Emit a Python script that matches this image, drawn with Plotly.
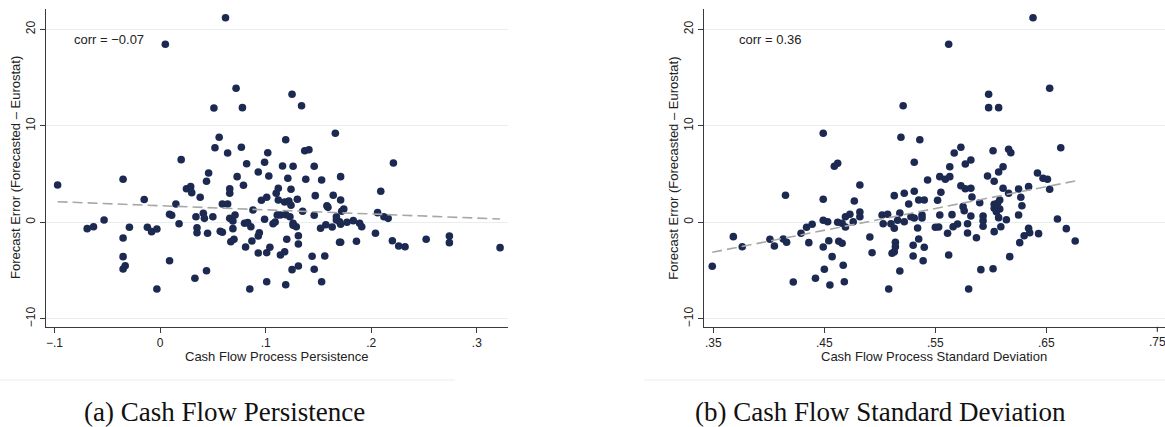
import plotly.graph_objects as go

# ---------------- Data ----------------
pers_x = [0.062, 0.005, -0.097, -0.035, -0.015, -0.069, -0.063, -0.053, -0.035, -0.035,
          -0.033, -0.035, -0.029, -0.012, 0.232, 0.252, 0.274, 0.274, 0.322, 0.072,
          0.125, 0.051, 0.078, 0.134,
          0.166, 0.056, 0.119, 0.052, 0.077, 0.064, 0.102, 0.137, 0.141, 0.020,
          0.221, 0.082, 0.099, 0.116, 0.126, 0.146, 0.093, 0.046, 0.073, 0.103,
          0.121, 0.138, 0.153, 0.171, 0.044, 0.079, 0.025, 0.029, 0.030, 0.066,
          0.066, 0.112, 0.124, 0.209, 0.038, 0.147, 0.164, 0.110, 0.096, 0.101,
          0.112, 0.118, 0.122, 0.124, 0.130, 0.171, 0.015, 0.059, 0.064, 0.088,
          0.135, 0.158, 0.159, 0.174, 0.172, 0.206, 0.212, 0.216, 0.009, 0.011,
          0.034, 0.041, 0.042, 0.050, 0.066, 0.069, 0.071, 0.099, 0.111, 0.114,
          0.119, 0.123, 0.146, 0.167, 0.167, 0.170, 0.177, 0.183, 0.189, 0.018,
          0.080, 0.083, 0.107, 0.109, 0.126, 0.157, 0.171, -0.008, -0.003, 0.035,
          0.035, 0.045, 0.057, 0.059, 0.069, 0.086, 0.094, 0.093, 0.126, 0.129,
          0.152, 0.163, 0.191, 0.204, 0.220, 0.226, 0.131, 0.120, 0.067, 0.070,
          0.087, 0.131, 0.170, 0.171, 0.186, 0.081, 0.104, 0.093, 0.101, 0.114,
          0.118, 0.144, 0.156, 0.009, 0.044, 0.033, 0.125, 0.131, 0.146, -0.003,
          0.085, 0.101, 0.119, 0.153]
pers_y = [21.2, 18.45, 3.87, 4.46, 2.36, -0.66, -0.46, 0.24, -1.63, -4.84,
          -4.5, -3.56, -0.52, -0.52, -2.53, -1.76, -1.42, -2.11, -2.63, 13.89,
          13.26, 11.84, 11.88, 12.08,
          9.22, 8.81, 8.56, 7.73, 7.77, 7.18, 7.21, 7.42, 7.52, 6.49,
          6.15, 6.07, 6.22, 5.83, 5.80, 5.80, 5.21, 5.11, 4.73, 4.80,
          4.56, 4.46, 4.38, 4.73, 4.25, 3.83, 3.48, 3.69, 3.07, 3.48,
          3.01, 3.52, 3.42, 3.21, 2.59, 2.76, 2.80, 3.01, 2.28, 2.59,
          2.31, 2.10, 2.21, 1.76, 2.38, 2.31, 1.90, 1.90, 1.90, 1.27,
          1.14, 1.72, 1.55, 1.38, 1.14, 1.00, 0.58, 0.41, 0.83, 0.73,
          0.58, 0.93, 0.41, 0.58, 0.41, 0.13, 0.76, 0.31, 0.76, 0.76,
          0.79, 0.58, 0.73, 0.58, 0.24, 0.06, 0.00, 0.17, -0.10, -0.15,
          -0.10, -0.04, -0.15, 0.03, -0.10, -0.25, -0.21, -0.97, -0.69, -0.56,
          -1.08, -1.14, -0.93, -1.04, -0.66, -0.46, -1.08, -1.42, -0.31, -0.46,
          -0.62, -0.49, -0.46, -1.14, -1.91, -2.46, -1.39, -1.76, -2.01, -1.76,
          -1.94, -2.25, -2.07, -2.07, -1.97, -2.56, -2.59, -3.18, -3.15, -3.39,
          -3.05, -3.52, -3.49, -3.98, -5.02, -5.80, -4.91, -4.53, -4.87, -6.91,
          -6.91, -6.16, -6.47, -6.16]

sd_x = [0.638, 0.562, 0.653, 0.415, 0.349, 0.368, 0.376, 0.401, 0.405, 0.413,
        0.416, 0.422,
        0.598, 0.598, 0.607, 0.521, 0.449, 0.519, 0.536, 0.573, 0.567, 0.602,
        0.616, 0.618, 0.663, 0.459, 0.462, 0.531, 0.577, 0.582, 0.563, 0.611,
        0.607, 0.642, 0.597, 0.603, 0.647, 0.651, 0.543, 0.554, 0.559, 0.563,
        0.482, 0.573, 0.577, 0.582, 0.611, 0.625, 0.634, 0.653, 0.513, 0.522,
        0.531, 0.555, 0.616, 0.449, 0.477, 0.535, 0.540, 0.526, 0.552, 0.583,
        0.590, 0.627, 0.603, 0.606, 0.608, 0.575, 0.628, 0.603, 0.605, 0.608,
        0.473, 0.482, 0.482, 0.469, 0.502, 0.507, 0.518, 0.528, 0.531, 0.538,
        0.538, 0.554, 0.565, 0.576, 0.582, 0.593, 0.593, 0.605, 0.607, 0.625,
        0.614, 0.626, 0.449, 0.453, 0.462, 0.466, 0.469, 0.476, 0.439, 0.434,
        0.429, 0.436, 0.503, 0.510, 0.513, 0.516, 0.522, 0.534, 0.550, 0.553,
        0.561, 0.566, 0.570, 0.579, 0.579, 0.593, 0.587, 0.603, 0.609, 0.630,
        0.634, 0.635, 0.643, 0.660, 0.668, 0.676, 0.449, 0.454, 0.463, 0.466,
        0.491, 0.457, 0.493, 0.467, 0.450, 0.442, 0.455, 0.468, 0.514, 0.514,
        0.513, 0.511, 0.530, 0.535, 0.540, 0.530, 0.539, 0.518, 0.508, 0.562,
        0.580, 0.591, 0.602, 0.617]
sd_y = [21.2, 18.45, 13.89, 2.80, -4.56, -1.49, -2.53, -1.76, -2.46, -1.73,
        -2.07, -6.19,
        13.26, 11.88, 11.88, 12.08, 9.22, 8.81, 8.56, 7.77, 7.18, 7.42,
        7.56, 7.21, 7.73, 5.80, 6.11, 6.22, 6.04, 6.46, 5.76, 5.76,
        5.21, 5.11, 4.80, 4.25, 4.56, 4.46, 4.38, 4.73, 4.46, 4.73,
        3.87, 3.79, 3.48, 3.52, 3.52, 3.45, 3.69, 3.42, 2.76, 3.01,
        3.21, 3.11, 3.01, 2.38, 2.21, 2.31, 2.31, 1.90, 2.28, 2.62,
        2.03, 2.59, 1.87, 1.97, 2.31, 1.62, 1.72, 1.45, 1.35, 1.38,
        0.83, 1.07, 0.58, 0.58, 0.76, 0.83, 0.96, 0.58, 0.45, 0.76,
        0.45, 0.76, 0.79, 1.20, 0.65, 0.65, 0.17, 1.10, 0.48, 0.76,
        0.27, -2.11, 0.21, 0.06, 0.00, -0.10, -0.49, 0.06, -0.21, -0.52,
        -1.14, -2.11, -0.15, -0.15, -0.62, 0.21, 0.06, -0.59, -0.52, -0.49,
        -1.14, -0.46, -0.18, -0.15, -1.11, -0.41, -1.60, -0.97, -0.46, -1.39,
        -0.62, -1.08, -1.18, 0.34, -0.66, -1.94, -2.56, -1.91, -1.97, -2.18,
        -1.52, -3.56, -3.15, -4.46, -4.87, -5.80, -6.50, -6.16, -2.07, -2.53,
        -3.05, -3.21, -2.38, -1.73, -2.59, -3.49, -3.98, -5.05, -6.91, -3.39,
        -6.91, -4.91, -4.81, -3.56]

# linear fit end points
fit_pers_x = [-0.097, 0.322]
fit_pers_y = [2.13, 0.34]
fit_sd_x = [0.349, 0.676]
fit_sd_y = [-3.11, 4.28]

y_ticks = [-10, 0, 10, 20]
y_ticktext = ["\u221210", "0", "10", "20"]
pers_ticks = [-0.1, 0, 0.1, 0.2, 0.3]
pers_ticktext = ["\u2212.1", "0", ".1", ".2", ".3"]
sd_ticks = [0.35, 0.45, 0.55, 0.65, 0.75]
sd_ticktext = [".35", ".45", ".55", ".65", ".75"]

corr_texts = ["corr = \u22120.07", "corr = 0.36"]
y_title = "Forecast Error (Forecasted \u2013 Eurostat)"
x_titles = ["Cash Flow Process Persistence", "Cash Flow Process Standard Deviation"]
captions = ["(a) Cash Flow Persistence", "(b) Cash Flow Standard Deviation"]

# ---------------- Styling ----------------
W, H = 1165, 427
NAVY = "#1c2a52"
FIT = "#a8a8a8"
GRID = "#e6eef0"
AXIS = "#3a3a3a"
TXT = "#222"
SANS = "Liberation Sans, Arial, sans-serif"
SERIF = "Liberation Serif, Times New Roman, serif"
TICK_FS = 12

fig = go.Figure()

for i, (xs, ys, fx, fy) in enumerate([(pers_x, pers_y, fit_pers_x, fit_pers_y),
                                      (sd_x, sd_y, fit_sd_x, fit_sd_y)]):
    xa = "x" if i == 0 else "x2"
    ya = "y" if i == 0 else "y2"
    fig.add_trace(go.Scatter(x=xs, y=ys, mode="markers", xaxis=xa, yaxis=ya,
                             marker=dict(color=NAVY, size=7.6, line=dict(width=0)),
                             showlegend=False, hoverinfo="skip"))
    fig.add_trace(go.Scatter(x=fx, y=fy, mode="lines", xaxis=xa, yaxis=ya,
                             line=dict(color=FIT, width=1.6, dash="10px,5px"),
                             showlegend=False, hoverinfo="skip"))

# plot-area pixel geometry
left_px = (46, 508)
right_px = (703.7, 1165)
top_px, bot_px = 9.3, 326.7
ydom = [(H - bot_px) / H, (H - top_px) / H]

common_y = dict(range=[-10.82, 22.07], tickvals=y_ticks, ticktext=y_ticktext,
                tickangle=-90, showgrid=True, gridcolor=GRID, gridwidth=1.2,
                zeroline=False, showline=True, linecolor=AXIS, linewidth=1.3,
                ticks="outside", ticklen=5, tickcolor=AXIS, tickwidth=1.2,
                tickfont=dict(family=SANS, size=TICK_FS, color=TXT), domain=ydom)
common_x = dict(showgrid=False, zeroline=False, showline=True, linecolor=AXIS,
                linewidth=1.3, ticks="outside", ticklen=5, tickcolor=AXIS, tickwidth=1.2,
                tickfont=dict(family=SANS, size=TICK_FS, color=TXT))

fig.update_layout(
    width=W, height=H, margin=dict(l=0, r=0, t=0, b=0),
    paper_bgcolor="white", plot_bgcolor="white",
    xaxis=dict(domain=[left_px[0] / W, left_px[1] / W], range=[-0.108, 0.3295],
               tickvals=pers_ticks, ticktext=pers_ticktext, anchor="y", **common_x),
    yaxis=dict(anchor="x", **common_y),
    xaxis2=dict(domain=[right_px[0] / W, 1.0], range=[0.3413, 0.7569],
                tickvals=sd_ticks[:-1], ticktext=sd_ticktext[:-1], anchor="y2", **common_x),
    yaxis2=dict(anchor="x2", **common_y),
)

ann = []
# last tick label on the right panel sits on the page edge (partly cut in the reference)
ann.append(dict(x=sd_ticks[-1], y=(H - 342) / H, xref="x2", yref="paper", text=sd_ticktext[-1],
                showarrow=False, xanchor="center", yanchor="middle",
                font=dict(family=SANS, size=TICK_FS, color=TXT)))
fig.add_shape(type="line", xref="x2", yref="paper", x0=sd_ticks[-1], x1=sd_ticks[-1],
              y0=(H - bot_px) / H, y1=(H - bot_px - 5) / H, line=dict(color=AXIS, width=1.2))
# correlation labels (data coordinates)
ann.append(dict(x=-0.0836, y=18.9, xref="x", yref="y", text=corr_texts[0], showarrow=False,
                xanchor="left", yanchor="middle", font=dict(family=SANS, size=13, color=TXT)))
ann.append(dict(x=0.3711, y=18.9, xref="x2", yref="y2", text=corr_texts[1], showarrow=False,
                xanchor="left", yanchor="middle", font=dict(family=SANS, size=13, color=TXT)))
# axis titles
for px_c, ytx in [(15, y_title), (672.7, y_title)]:
    ann.append(dict(x=px_c / W, y=(H - (top_px + bot_px) / 2) / H, xref="paper", yref="paper",
                    text=ytx, textangle=-90, showarrow=False, xanchor="center", yanchor="middle",
                    font=dict(family=SANS, size=13, color=TXT)))
for (l, r), t in zip([left_px, right_px], x_titles):
    ann.append(dict(x=(l + r) / 2 / W, y=(H - 356.5) / H, xref="paper", yref="paper", text=t,
                    showarrow=False, xanchor="center", yanchor="middle",
                    font=dict(family=SANS, size=13, color=TXT)))
# captions
for cx, t in zip([224.5, 880], captions):
    ann.append(dict(x=cx / W, y=(H - 412) / H, xref="paper", yref="paper", text=t,
                    showarrow=False, xanchor="center", yanchor="middle",
                    font=dict(family=SERIF, size=27, color="#111")))
fig.update_layout(annotations=ann)

# thin frame lines below each panel image
fig.add_shape(type="line", xref="paper", yref="paper", x0=0, x1=455 / W,
              y0=(H - 380) / H, y1=(H - 380) / H, line=dict(color="#e8eef1", width=1))
fig.add_shape(type="line", xref="paper", yref="paper", x0=644 / W, x1=1,
              y0=(H - 380) / H, y1=(H - 380) / H, line=dict(color="#e8eef1", width=1))

fig.write_html("out.html", config={"displayModeBar": False},
               post_script="document.body.style.margin='0';document.body.style.overflow='hidden';")
